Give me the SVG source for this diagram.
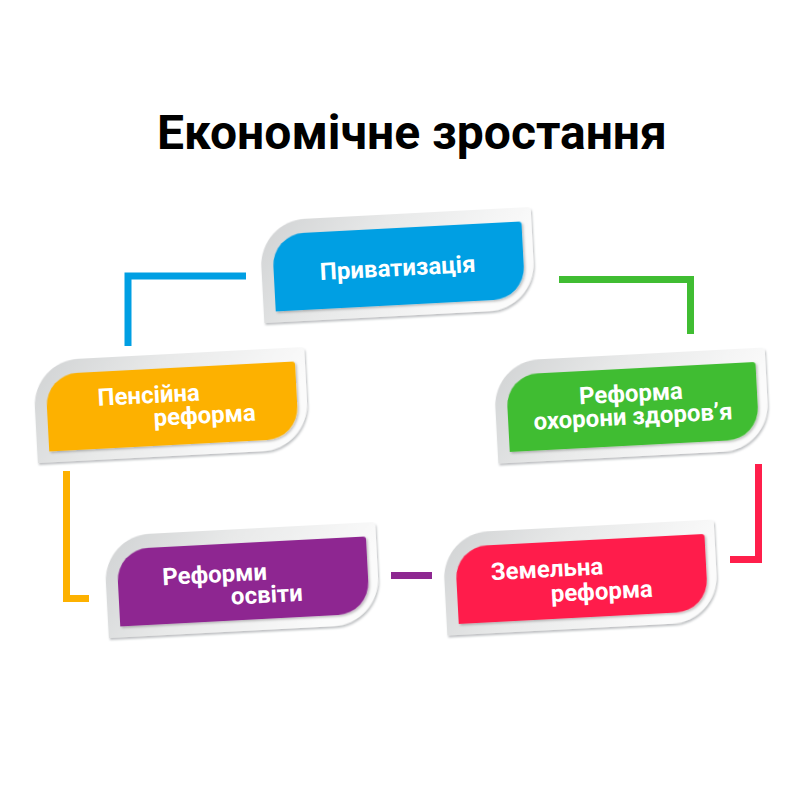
<svg xmlns="http://www.w3.org/2000/svg" width="800" height="800" viewBox="0 0 800 800">
<defs>
<linearGradient id="gOuter" x1="0" y1="0" x2="1" y2="0.3">
<stop offset="0" stop-color="#d0d2d3"/>
<stop offset="0.45" stop-color="#e8e9e9"/>
<stop offset="1" stop-color="#fbfbfb"/>
</linearGradient>
<filter id="fOuter" x="-10%" y="-20%" width="120%" height="140%">
<feDropShadow dx="1" dy="2" stdDeviation="1.2" flood-color="#6f7478" flood-opacity="0.45"/>
</filter>
<filter id="fInner" x="-10%" y="-20%" width="120%" height="140%">
<feDropShadow dx="1.5" dy="1.5" stdDeviation="1.2" flood-color="#000" flood-opacity="0.25"/>
</filter>
<path id="outer" d="M-136,51 V-5 A46,46 0 0 1 -90,-51 H132 Q136,-51 136,-47 V4 A47,47 0 0 1 89,51 Z"/>
<path id="inner" d="M-124,40 V-5 A32,32 0 0 1 -92,-37 H123 Q126,-37 126,-34 V8 A32,32 0 0 1 94,40 Z"/>
</defs>
<style>
.title{font-family:Roboto,"Liberation Sans",sans-serif;font-weight:700;font-size:48px;fill:#000}
.lbl{font-family:Roboto,"Liberation Sans",sans-serif;font-weight:700;font-size:24px;fill:#fff}
.outer{fill:url(#gOuter);filter:url(#fOuter)}
.inner{filter:url(#fInner)}
.conn{fill:none;stroke-width:7;stroke-linecap:butt;stroke-linejoin:miter}
</style>
<rect width="800" height="800" fill="#fff"/>
<text class="title" x="412" y="149" text-anchor="middle">Економічне зростання</text>
<g id="connectors">
<path class="conn" stroke="#009fe3" d="M128,346 V276 H246"/>
<path class="conn" stroke="#40bd32" d="M559,279.5 H690.5 V334"/>
<path class="conn" stroke="#ff1f4b" d="M758.5,464 V559.5 H730"/>
<path class="conn" stroke="#8e2891" d="M391,575.5 H432"/>
<path class="conn" stroke="#fdb100" d="M66.5,471 V598.5 H89"/>
</g>
<g id="privatization" transform="translate(397.5,265) rotate(-3)">
<use href="#outer" class="outer"/>
<use href="#inner" class="inner" fill="#009fe3"/>
<text class="lbl" x="0" y="11" text-anchor="middle">Приватизація</text>
</g>
<g id="pension" transform="translate(171,405) rotate(-3)">
<use href="#outer" class="outer"/>
<use href="#inner" class="inner" fill="#fdb100"/>
<text class="lbl" x="-73" y="-3">Пенсійна</text>
<text class="lbl" x="-18" y="20">реформа</text>
</g>
<g id="health" transform="translate(631.5,405.5) rotate(-3)">
<use href="#outer" class="outer"/>
<use href="#inner" class="inner" fill="#40bd32"/>
<text class="lbl" x="0" y="-4" text-anchor="middle">Реформа</text>
<text class="lbl" x="1" y="19" text-anchor="middle">охорони здоров’я</text>
</g>
<g id="education" transform="translate(242,580) rotate(-3)">
<use href="#outer" class="outer"/>
<use href="#inner" class="inner" fill="#8e2891"/>
<text class="lbl" x="-27" y="1" text-anchor="middle">Реформи</text>
<text class="lbl" x="24" y="24" text-anchor="middle">освіти</text>
</g>
<g id="land" transform="translate(580.5,577.5) rotate(-3)">
<use href="#outer" class="outer"/>
<use href="#inner" class="inner" fill="#ff1f4b"/>
<text class="lbl" x="-33" y="-2" text-anchor="middle">Земельна</text>
<text class="lbl" x="20.5" y="23" text-anchor="middle">реформа</text>
</g>
</svg>
